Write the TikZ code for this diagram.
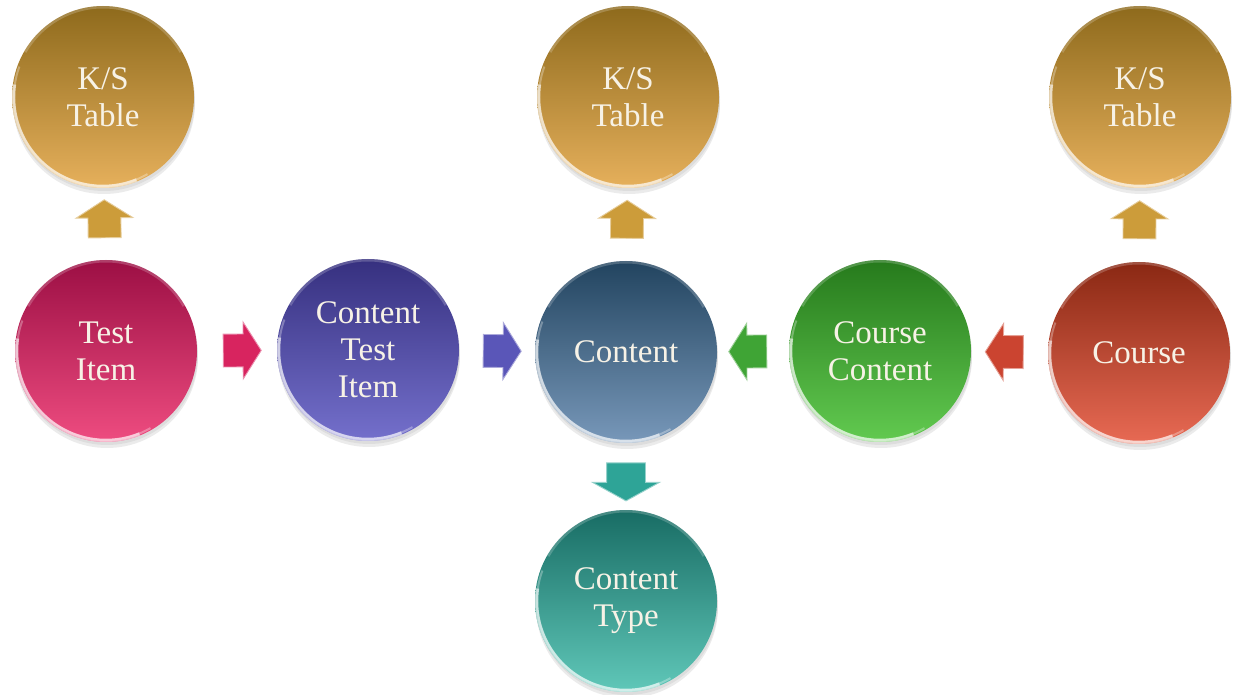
\documentclass[tikz,border=0pt]{standalone}
\usepackage{fontspec}
\setmainfont{Liberation Serif}
\usetikzlibrary{shapes.arrows,calc}
\definecolor{txt}{HTML}{F7F2E6}
\definecolor{goldT}{HTML}{8E6A1C}\definecolor{goldB}{HTML}{E6B05C}\definecolor{goldA}{HTML}{CC9C3A}
\definecolor{pinkT}{HTML}{9C0F44}\definecolor{pinkB}{HTML}{EE4C80}\definecolor{pinkA}{HTML}{D8245F}
\definecolor{indT}{HTML}{36307F}\definecolor{indB}{HTML}{7470CC}\definecolor{indA}{HTML}{5A56B8}
\definecolor{stT}{HTML}{22445F}\definecolor{stB}{HTML}{7898BA}
\definecolor{grT}{HTML}{267A1C}\definecolor{grB}{HTML}{62CA50}\definecolor{grA}{HTML}{3FA435}
\definecolor{rdT}{HTML}{8A2813}\definecolor{rdB}{HTML}{E86A54}\definecolor{rdA}{HTML}{CB4430}
\definecolor{tlT}{HTML}{186C64}\definecolor{tlB}{HTML}{60C8B9}\definecolor{tlA}{HTML}{2EA497}
\tikzset{
  ball/.style 2 args={circle, minimum size=182pt, inner sep=0pt, align=center,
    text=txt, font=\fontsize{33}{37}\selectfont,
    top color=#1, bottom color=#2, draw=none,
    preaction={fill=black, fill opacity=0.08, transform canvas={xshift=1pt,yshift=-6pt}},
    preaction={fill=black, fill opacity=0.06, transform canvas={xshift=1pt,yshift=-3pt}},
    path picture={
      \draw[white, opacity=0.6, line width=4.5pt]
        ([shift={(172:90pt)}]path picture bounding box.center)
        arc[start angle=172, end angle=292, radius=90pt];
      \draw[white, opacity=0.3, line width=2pt]
        ([shift={(160:89pt)}]path picture bounding box.center)
        arc[start angle=160, end angle=300, radius=89pt];
      \draw[white, opacity=0.2, line width=3pt]
        ([shift={(30:90pt)}]path picture bounding box.center)
        arc[start angle=30, end angle=150, radius=90pt];
    }},
  barrow/.style={single arrow, minimum height=38pt, inner xsep=0pt, inner ysep=16pt,
    single arrow head extend=12pt, single arrow tip angle=115,
    sloped, allow upside down, fill=#1, draw=#1!50!white, line width=0.9pt},
  bigarrow/.style={inner ysep=19pt, single arrow head extend=14pt, single arrow tip angle=122},
}
\begin{document}
\begin{tikzpicture}[x=1pt,y=-1pt]
\useasboundingbox (0,0) rectangle (1235,695);
% circles
\node[ball={goldT}{goldB}] (ks1) at (103,97) {K/S\\Table};
\node[ball={goldT}{goldB}] (ks2) at (628,97) {K/S\\Table};
\node[ball={goldT}{goldB}] (ks3) at (1140,97) {K/S\\Table};
\node[ball={pinkT}{pinkB}] (ti) at (106,351) {Test\\Item};
\node[ball={indT}{indB}] (cti) at (368,350) {Content\\Test\\Item};
\node[ball={stT}{stB}] (ct) at (626,352) {Content};
\node[ball={grT}{grB}] (cc) at (880,351) {Course\\Content};
\node[ball={rdT}{rdB}] (co) at (1139,353) {Course};
\node[ball={tlT}{tlB}] (cty) at (626,601) {Content\\Type};
% block arrows
\path (ti) -- node[barrow=goldA] (u1) {} (ks1);
\path (ct) -- node[barrow=goldA] (u2) {} (ks2);
\path (co) -- node[barrow=goldA] (u3) {} (ks3);
\path (ti) -- node[barrow=pinkA] (r1) {} (cti);
\path (cti) -- node[barrow=indA] (r2) {} (ct);
\path (cc) -- node[barrow=grA] (l1) {} (ct);
\path (co) -- node[barrow=rdA] (l2) {} (cc);
\path (ct) -- node[barrow=tlA, bigarrow] (d1) {} (cty);
\end{tikzpicture}
\end{document}
